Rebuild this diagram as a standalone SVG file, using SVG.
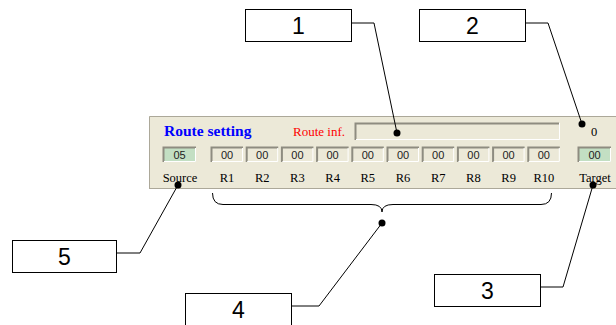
<svg xmlns="http://www.w3.org/2000/svg" width="616" height="325" viewBox="0 0 616 325">
<style>
.callout rect{fill:#fff;stroke:#000;stroke-width:1}
.callout text{font-family:"Liberation Sans",Arial,sans-serif;font-size:23px;text-anchor:middle;fill:#000}
.lead{fill:none;stroke:#000;stroke-width:1}
.dot{fill:#000}
.fld{fill:#ece9d8}
.fldg{fill:#c3dfc3}
.dk{fill:none;stroke:#8e8c80;stroke-width:2}
.lt{fill:none;stroke:#fff;stroke-width:1}
.num{font-family:"Liberation Sans",Arial,sans-serif;font-size:11px;text-anchor:middle;fill:#222}
.lbl{font-family:"Liberation Serif","Times New Roman",serif;font-size:12.5px;text-anchor:middle;fill:#000}
</style>
<rect width="616" height="325" fill="#fff"/>
<g id="panel">
<rect x="149" y="116" width="470" height="73" fill="#ece9d8"/>
<path d="M149.5,189 V116.5 H616" fill="none" stroke="#aca899"/>
<path d="M150,188.5 H616" stroke="#aca899" fill="none"/>
<text x="164" y="136" font-family="Liberation Serif,'Times New Roman',serif" font-size="15.5" font-weight="bold" fill="#0000ff">Route setting</text>
<text x="293" y="136" font-family="Liberation Serif,'Times New Roman',serif" font-size="13" fill="#ff0000">Route inf.</text>
<rect x="355" y="123" width="204" height="17" class="fld"/>
<path d="M355.5,140 V123.5 H559" class="dk" stroke-width="1.5"/>
<path d="M356,139.5 H559.5 V123" class="lt"/>
<text x="594" y="136" class="lbl">0</text>
<g id="fields">
<rect x="163" y="147" width="33" height="15" class="fldg"/><path d="M163.5,162 V147.5 H196" class="dk"/><path d="M164,161.5 H195.5 V148" class="lt"/><text x="179.5" y="159" class="num">05</text>
<rect x="211" y="147" width="32" height="15" class="fld"/><path d="M211.5,162 V147.5 H243" class="dk"/><path d="M212,161.5 H242.5 V148" class="lt"/><text x="227" y="159" class="num">00</text>
<rect x="246.2" y="147" width="32" height="15" class="fld"/><path d="M246.7,162 V147.5 H278.2" class="dk"/><path d="M247.2,161.5 H277.7 V148" class="lt"/><text x="262.2" y="159" class="num">00</text>
<rect x="281.4" y="147" width="32" height="15" class="fld"/><path d="M281.9,162 V147.5 H313.4" class="dk"/><path d="M282.4,161.5 H312.9 V148" class="lt"/><text x="297.4" y="159" class="num">00</text>
<rect x="316.6" y="147" width="32" height="15" class="fld"/><path d="M317.1,162 V147.5 H348.6" class="dk"/><path d="M317.6,161.5 H348.1 V148" class="lt"/><text x="332.6" y="159" class="num">00</text>
<rect x="351.8" y="147" width="32" height="15" class="fld"/><path d="M352.3,162 V147.5 H383.8" class="dk"/><path d="M352.8,161.5 H383.3 V148" class="lt"/><text x="367.8" y="159" class="num">00</text>
<rect x="387" y="147" width="32" height="15" class="fld"/><path d="M387.5,162 V147.5 H419" class="dk"/><path d="M388,161.5 H418.5 V148" class="lt"/><text x="403" y="159" class="num">00</text>
<rect x="422.2" y="147" width="32" height="15" class="fld"/><path d="M422.7,162 V147.5 H454.2" class="dk"/><path d="M423.2,161.5 H453.7 V148" class="lt"/><text x="438.2" y="159" class="num">00</text>
<rect x="457.4" y="147" width="32" height="15" class="fld"/><path d="M457.9,162 V147.5 H489.4" class="dk"/><path d="M458.4,161.5 H488.9 V148" class="lt"/><text x="473.4" y="159" class="num">00</text>
<rect x="492.6" y="147" width="32" height="15" class="fld"/><path d="M493.1,162 V147.5 H524.6" class="dk"/><path d="M493.6,161.5 H524.1 V148" class="lt"/><text x="508.6" y="159" class="num">00</text>
<rect x="527.8" y="147" width="32" height="15" class="fld"/><path d="M528.3,162 V147.5 H559.8" class="dk"/><path d="M528.8,161.5 H559.3 V148" class="lt"/><text x="543.8" y="159" class="num">00</text>
<rect x="578" y="147" width="33" height="15" class="fldg"/><path d="M578.5,162 V147.5 H611" class="dk"/><path d="M579,161.5 H610.5 V148" class="lt"/><text x="594.5" y="159" class="num">00</text>
</g>
<g id="labels">
<text x="180" y="182" class="lbl">Source</text>
<text x="227" y="182" class="lbl">R1</text>
<text x="262.2" y="182" class="lbl">R2</text>
<text x="297.4" y="182" class="lbl">R3</text>
<text x="332.6" y="182" class="lbl">R4</text>
<text x="367.8" y="182" class="lbl">R5</text>
<text x="403" y="182" class="lbl">R6</text>
<text x="438.2" y="182" class="lbl">R7</text>
<text x="473.4" y="182" class="lbl">R8</text>
<text x="508.6" y="182" class="lbl">R9</text>
<text x="543.8" y="182" class="lbl">R10</text>
<text x="595" y="182" class="lbl">Target</text>
</g>
</g>
<g id="connectors">
<path class="lead" d="M212.5,193 Q212.5,204.5 223,204.5 H371 Q382,204.5 382,212 Q382,204.5 393,204.5 H541 Q551.5,204.5 551.5,193"/>
<polyline class="lead" points="352,23 374,23 397,133"/>
<polyline class="lead" points="526,23 548,23 582,124"/>
<polyline class="lead" points="541,287 563,287 593,185"/>
<polyline class="lead" points="291,306 319,306 382,223"/>
<polyline class="lead" points="117,253 140,253 178,185"/>
<circle class="dot" cx="397" cy="133" r="3.5"/>
<circle class="dot" cx="582" cy="124" r="3.5"/>
<circle class="dot" cx="593" cy="185" r="3.5"/>
<circle class="dot" cx="382" cy="223" r="3.5"/>
<circle class="dot" cx="178" cy="185" r="3.5"/>
</g>
<g id="callout1" class="callout"><rect x="245.5" y="9.5" width="106" height="32"/><text x="298.5" y="34">1</text></g>
<g id="callout2" class="callout"><rect x="419.5" y="9.5" width="106" height="32"/><text x="472.5" y="34">2</text></g>
<g id="callout3" class="callout"><rect x="434.5" y="274.5" width="106" height="32"/><text x="487.5" y="299">3</text></g>
<g id="callout4" class="callout"><rect x="185.5" y="293.5" width="106" height="40"/><text x="238.5" y="318">4</text></g>
<g id="callout5" class="callout"><rect x="12.5" y="240.5" width="104" height="32"/><text x="64.5" y="265">5</text></g>
</svg>
